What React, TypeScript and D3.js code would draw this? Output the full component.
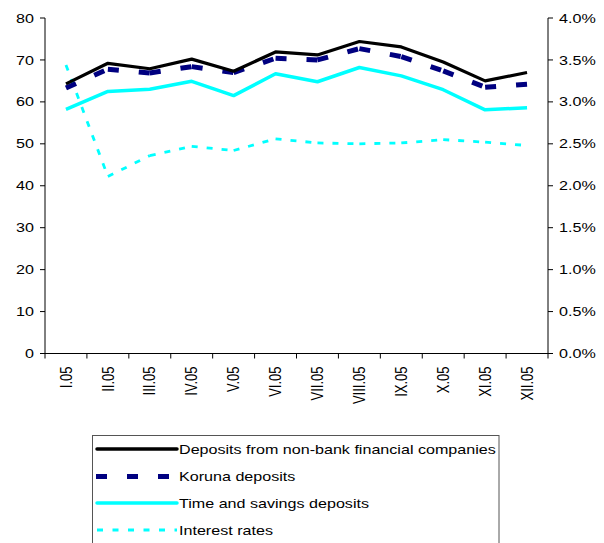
import React from "react";
import * as d3 from "d3";

const categories = ["I.05", "II.05", "III.05", "IV.05", "V.05", "VI.05", "VII.05", "VIII.05", "IX.05", "X.05", "XI.05", "XII.05"];
const depositsNonBank = [64.3, 69.2, 67.9, 70.2, 67.3, 71.9, 71.2, 74.4, 73.1, 69.5, 65.0, 67.0];
const korunaDeposits = [63.3, 67.8, 66.9, 68.4, 67.0, 70.4, 70.0, 72.7, 70.8, 67.4, 63.5, 64.2];
const timeSavings = [58.2, 62.5, 63.0, 64.9, 61.5, 66.7, 64.8, 68.2, 66.2, 62.9, 58.1, 58.6];
const interestRates = [3.44, 2.11, 2.36, 2.47, 2.42, 2.56, 2.51, 2.5, 2.51, 2.55, 2.52, 2.48];
const leftTicks = [0, 10, 20, 30, 40, 50, 60, 70, 80];
const rightTicks = [0, 0.5, 1, 1.5, 2, 2.5, 3, 3.5, 4];
const legendLabels = ["Deposits from non-bank financial companies", "Koruna deposits", "Time and savings deposits", "Interest rates"];

const FONT = "'Liberation Sans', Arial, sans-serif";
const SX = 1.24; // horizontal stretch of the reference's text

export default function App() {
  const left = 45, right = 548, top = 18, bottom = 353.5;
  const x = d3.scaleBand<string>().domain(categories).range([left, right]);
  const yL = d3.scaleLinear().domain([0, 80]).range([bottom, top]);
  const yR = d3.scaleLinear().domain([0, 4]).range([bottom, top]);
  const cx = (c: string) => (x(c) as number) + x.bandwidth() / 2;

  const line = d3.line<number>().x((_, i) => cx(categories[i]));
  const pathL = (vals: number[]) => line.y((v) => yL(v))(vals) as string;

  const segments = (vals: number[], ys: (v: number) => number) =>
    vals.slice(1).map((v, i) => ({ x1: cx(categories[i]), y1: ys(vals[i]), x2: cx(categories[i + 1]), y2: ys(v) }));

  const korunaSegs = segments(korunaDeposits, (v) => yL(v));
  const rateSegs = segments(interestRates, (v) => yR(v));

  const legendX = 92.5, legendY = 435.5, legendW = 406.5;
  const rowY = [449, 476.5, 503, 530];
  const sampleX1 = 97, sampleX2 = 177;

  const T = (props: { x: number; y: number; anchor?: string; children: React.ReactNode }) => (
    <g transform={`translate(${props.x},${props.y}) scale(${SX},1)`}>
      <text dy="0.35em" textAnchor={props.anchor || "start"} fontSize={13} fill="#000">{props.children}</text>
    </g>
  );

  return (
    <svg width={604} height={543} style={{ position: "absolute", left: 0, top: 0 }} fontFamily={FONT}>
      <rect width={604} height={543} fill="#fff" />
      <line x1={left} x2={left} y1={top} y2={bottom} stroke="#000" />
      {leftTicks.map((t) => (
        <g key={"l" + t}>
          <line x1={left - 5} x2={left} y1={yL(t)} y2={yL(t)} stroke="#000" />
          <T x={left - 11} y={yL(t)} anchor="end">{t}</T>
        </g>
      ))}
      <line x1={right} x2={right} y1={top} y2={bottom} stroke="#000" />
      {rightTicks.map((t) => (
        <g key={"r" + t}>
          <line x1={right} x2={right + 5} y1={yR(t)} y2={yR(t)} stroke="#000" />
          <T x={right + 11} y={yR(t)}>{t.toFixed(1) + "%"}</T>
        </g>
      ))}
      <line x1={left} x2={right} y1={bottom} y2={bottom} stroke="#000" />
      {categories.map((c, i) => (
        <g key={c}>
          <line x1={x(c) as number} x2={x(c) as number} y1={bottom} y2={bottom + 5} stroke="#000" />
          {i === categories.length - 1 ? (
            <line x1={right} x2={right} y1={bottom} y2={bottom + 5} stroke="#000" />
          ) : null}
          <g transform={`translate(${cx(c)},${bottom + 13}) scale(${SX},1) rotate(-90)`}>
            <text dy="0.35em" textAnchor="end" fontSize={13} fill="#000">{c}</text>
          </g>
        </g>
      ))}

      {rateSegs.map((s, i) => (
        <line key={"ir" + i} {...s} stroke="#00FFFF" strokeWidth={2.8} strokeDasharray="6,9" />
      ))}
      <path d={pathL(timeSavings)} fill="none" stroke="#00FFFF" strokeWidth={3.5} strokeLinejoin="round" />
      {korunaSegs.map((s, i) => (
        <line key={"kd" + i} {...s} stroke="#000080" strokeWidth={5} strokeDasharray="11,20" />
      ))}
      <path d={pathL(depositsNonBank)} fill="none" stroke="#000" strokeWidth={3.2} strokeLinejoin="round" />

      <rect x={legendX} y={legendY} width={legendW} height={120} fill="#fff" stroke="#555" strokeWidth={1} />
      <line x1={sampleX1} x2={sampleX2} y1={rowY[0]} y2={rowY[0]} stroke="#000" strokeWidth={3.5} strokeLinecap="round" />
      <line x1={sampleX1 - 1} x2={sampleX2} y1={rowY[1]} y2={rowY[1]} stroke="#000080" strokeWidth={5} strokeDasharray="11,20" />
      <line x1={sampleX1} x2={sampleX2} y1={rowY[2]} y2={rowY[2]} stroke="#00FFFF" strokeWidth={3.5} strokeLinecap="round" />
      <line x1={sampleX1} x2={sampleX2} y1={rowY[3]} y2={rowY[3]} stroke="#00FFFF" strokeWidth={2.8} strokeDasharray="6,9.5" />
      {legendLabels.map((l, i) => (
        <T key={l} x={179} y={rowY[i]}>{l}</T>
      ))}
    </svg>
  );
}
